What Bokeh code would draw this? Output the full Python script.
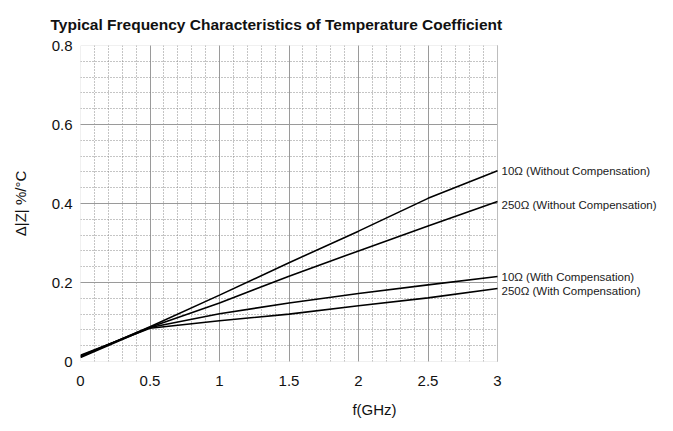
from bokeh.plotting import figure
from bokeh.models import (Label, FixedTicker, BoxAnnotation,
                          CustomJSTickFormatter, Range1d)
from bokeh.embed import file_html
from bokeh.resources import INLINE

# ---- data ----
freq_ghz = [0.0, 0.5, 1.0, 1.5, 2.0, 2.5, 3.0]
tc_10_without = [0.012, 0.088, 0.168, 0.250, 0.330, 0.413, 0.483]
tc_250_without = [0.014, 0.087, 0.148, 0.216, 0.280, 0.343, 0.405]
tc_10_with = [0.010, 0.086, 0.121, 0.148, 0.172, 0.194, 0.215]
tc_250_with = [0.016, 0.084, 0.103, 0.120, 0.141, 0.161, 0.185]

series_labels = ["10\u03a9 (Without Compensation)", "250\u03a9 (Without Compensation)",
                 "10\u03a9 (With Compensation)", "250\u03a9 (With Compensation)"]
label_values = [0.483, 0.397, 0.215, 0.179]

x_ticks = [0.0, 0.5, 1.0, 1.5, 2.0, 2.5, 3.0]
y_ticks = [0.0, 0.2, 0.4, 0.6, 0.8]
x_minor = [i / 10 for i in range(0, 31)]
y_minor = [i / 100 for i in range(0, 81, 4)]

title_text = "Typical Frequency Characteristics of Temperature Coefficient"
x_label = "f(GHz)"
y_label = "\u0394|Z| %/\u00b0C"

FONT = "Liberation Sans"
X_MAX = x_ticks[-1]
Y_MAX = y_ticks[-1]

# frame spans the data area plus the label area on the right
p = figure(width=668, height=420, output_backend="svg", toolbar_location=None,
           x_range=Range1d(0, 4.23), y_range=Range1d(0, Y_MAX),
           min_border_left=80, min_border_right=0, min_border_top=42,
           min_border_bottom=52)

p.title.text = title_text
p.title.text_font = FONT
p.title.text_font_size = "15.5px"
p.title.text_font_style = "bold"
p.title.text_color = "#111111"
p.title.text_line_height = 0.5
p.title.offset = -30
p.title.standoff = 26

# white mask over the label area (hides grid lines beyond x = 3)
p.add_layout(BoxAnnotation(left=X_MAX, fill_color="white", fill_alpha=1.0,
                           line_color=None, level="underlay"))
# data-area border
p.add_layout(BoxAnnotation(left=0, right=X_MAX, bottom=0, top=Y_MAX,
                           fill_alpha=0, line_color="#9a9a9a", line_width=1,
                           level="underlay"))

for ys in [tc_10_without, tc_250_without, tc_10_with, tc_250_with]:
    p.line(freq_ghz, ys, line_color="black", line_width=1.6)

for txt, yv in zip(series_labels, label_values):
    p.add_layout(Label(x=X_MAX, y=yv, text=txt, x_offset=4,
                       text_baseline="middle", text_font_size="11.5px",
                       text_font=FONT, text_color="#1a1a1a"))

fmt = CustomJSTickFormatter(code="return String(Math.round(tick*100)/100);")
p.xaxis.ticker = FixedTicker(ticks=x_ticks, minor_ticks=x_minor)
p.yaxis.ticker = FixedTicker(ticks=y_ticks, minor_ticks=y_minor)
p.xgrid.ticker = p.xaxis.ticker
p.ygrid.ticker = p.yaxis.ticker
p.xaxis.bounds = (0, X_MAX)
for ax in [p.xaxis[0], p.yaxis[0]]:
    ax.formatter = fmt
    ax.axis_line_color = None
    ax.major_tick_line_color = None
    ax.minor_tick_line_color = None
    ax.major_tick_out = 0
    ax.major_tick_in = 0
    ax.minor_tick_out = 0
    ax.major_label_text_font = FONT
    ax.major_label_text_font_size = "15px"
    ax.major_label_text_color = "#111111"
    ax.axis_label_text_font = FONT
    ax.axis_label_text_font_size = "15px"
    ax.axis_label_text_font_style = "normal"
    ax.axis_label_text_color = "#111111"

p.xaxis.axis_label = x_label
p.yaxis.axis_label = y_label
p.xaxis.major_label_standoff = 14
p.xaxis.axis_label_standoff = 12
p.yaxis.major_label_standoff = 8
p.yaxis.axis_label_standoff = 20

for g in [p.xgrid[0], p.ygrid[0]]:
    g.grid_line_color = "#9a9a9a"
    g.grid_line_width = 1
    g.minor_grid_line_color = "#8a8a8a"
    g.minor_grid_line_dash = "1 2"
    g.minor_grid_line_width = 1

p.outline_line_color = None
p.background_fill_color = "white"
p.border_fill_color = "white"

open("out.html", "w").write(file_html(p, INLINE))
